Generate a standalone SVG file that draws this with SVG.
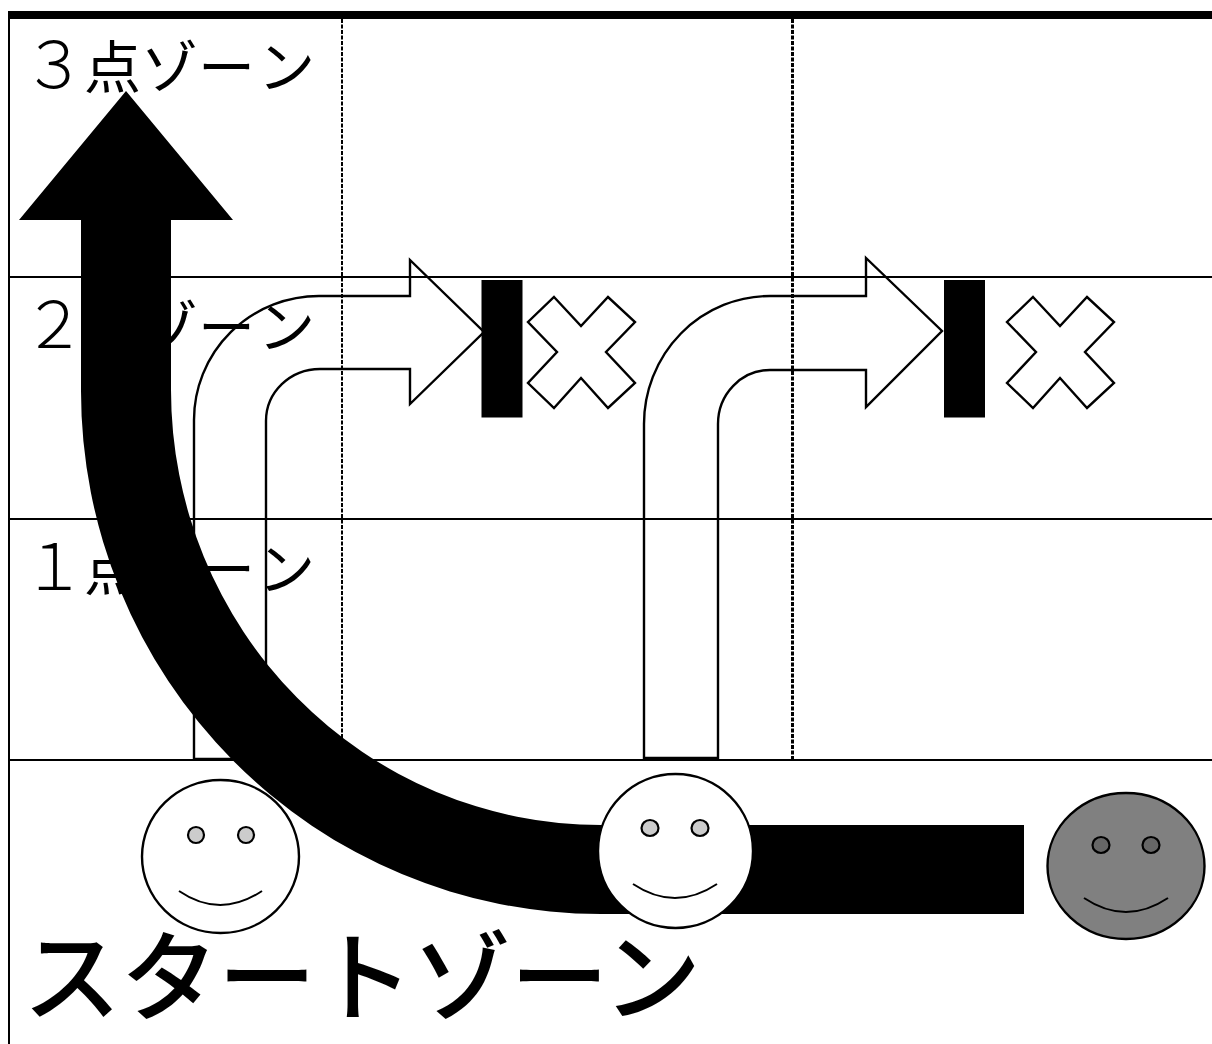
<svg xmlns="http://www.w3.org/2000/svg" width="1212" height="1044" viewBox="0 0 1212 1044">
<style>
.z{font-family:"Noto Sans CJK JP","Noto Sans",sans-serif;font-size:57px;font-weight:400;fill:#000}
.n{font-size:64px;font-weight:300}
.s{font-size:98px;font-weight:500}
.g{stroke:#000;stroke-width:2;fill:none}
.d{stroke:#000;stroke-width:2;fill:none;stroke-dasharray:4 1.5}
.o{stroke:#000;stroke-width:2.4;fill:#fff}
.a{stroke:#000;stroke-width:2.4;fill:none}
.k{fill:#000}
.m{stroke:#000;stroke-width:2;fill:none}
.e{stroke:#000;stroke-width:2.2;fill:#ccc}
</style>
<rect width="1212" height="1044" fill="#fff"/>
<g id="grid">
<path class="g" d="M9 11V1044"/>
<rect class="k" x="8" y="11" width="1204" height="8"/>
<path class="g" d="M9 277H1212M9 519H1212M9 760H1212"/>
<path class="d" d="M342 19V760"/>
<path class="d" style="stroke-width:3" d="M792.500 19V760"/>
</g>
<g id="labels">
<text class="z" y="88"><tspan class="n" x="22">３</tspan><tspan x="84 141 198 258">点ゾーン</tspan></text>
<text class="z" y="348"><tspan class="n" x="22">２</tspan><tspan x="84 141 198 258">点ゾーン</tspan></text>
<text class="z" y="590"><tspan class="n" x="22">１</tspan><tspan x="84 141 198 258">点ゾーン</tspan></text>
<text class="z s" x="23" y="1013" textLength="678" lengthAdjust="spacing">スタートゾーン</text>
</g>
<g id="connectors">
<path id="blocked-arrow-1" class="a" d="M194 759V420A125 124 0 0 1 320 296H410V260L484 332L410 404V369H320A54 52 0 0 0 266 421V759Z"/>
<path id="blocked-arrow-2" class="a" d="M644 758V424A126 128 0 0 1 770 296H866V258L942 331L866 407V370H770A52 54 0 0 0 718 424V758Z"/>
<path id="main-arrow" class="k" d="M126 91L233 220H171V390A430 435 0 0 0 601 825H1024V914H601A520 523 0 0 1 81 390V220H19Z"/>
</g>
<g id="barrier-1"><rect class="k" x="481.500" y="280" width="41" height="137.500"/></g>
<g id="barrier-2"><rect class="k" x="944" y="280" width="41" height="137.500"/></g>
<g id="cross-1"><path class="o" d="M554 297L581 326L608 297L635 322L606 352L635 383L608 408L581 378L554 408L528 383L557 352L528 322Z"/></g>
<g id="cross-2"><path class="o" d="M1033 297L1060 326L1087 297L1114 322L1085 352L1114 383L1087 408L1060 378L1033 408L1007 383L1036 352L1007 322Z"/></g>
<g id="face-1">
<ellipse class="o" cx="220.500" cy="856.500" rx="78.500" ry="76.500"/>
<circle class="e" cx="196" cy="835" r="8"/><circle class="e" cx="246" cy="835" r="8"/>
<path class="m" d="M179 891Q220 919 262 891"/>
</g>
<g id="face-2">
<ellipse class="o" cx="675.500" cy="851" rx="77.500" ry="77"/>
<ellipse class="e" cx="650" cy="828" rx="8.500" ry="8"/><ellipse class="e" cx="700" cy="828" rx="8.500" ry="8"/>
<path class="m" d="M633 884Q675 912 717 884"/>
</g>
<g id="face-3">
<ellipse class="o" style="fill:#808080" cx="1126" cy="866" rx="78.500" ry="73"/>
<ellipse class="e" style="fill:#666" cx="1101" cy="845" rx="8.500" ry="8"/><ellipse class="e" style="fill:#666" cx="1151" cy="845" rx="8.500" ry="8"/>
<path class="m" d="M1084 898Q1126 926 1168 898"/>
</g>
</svg>
